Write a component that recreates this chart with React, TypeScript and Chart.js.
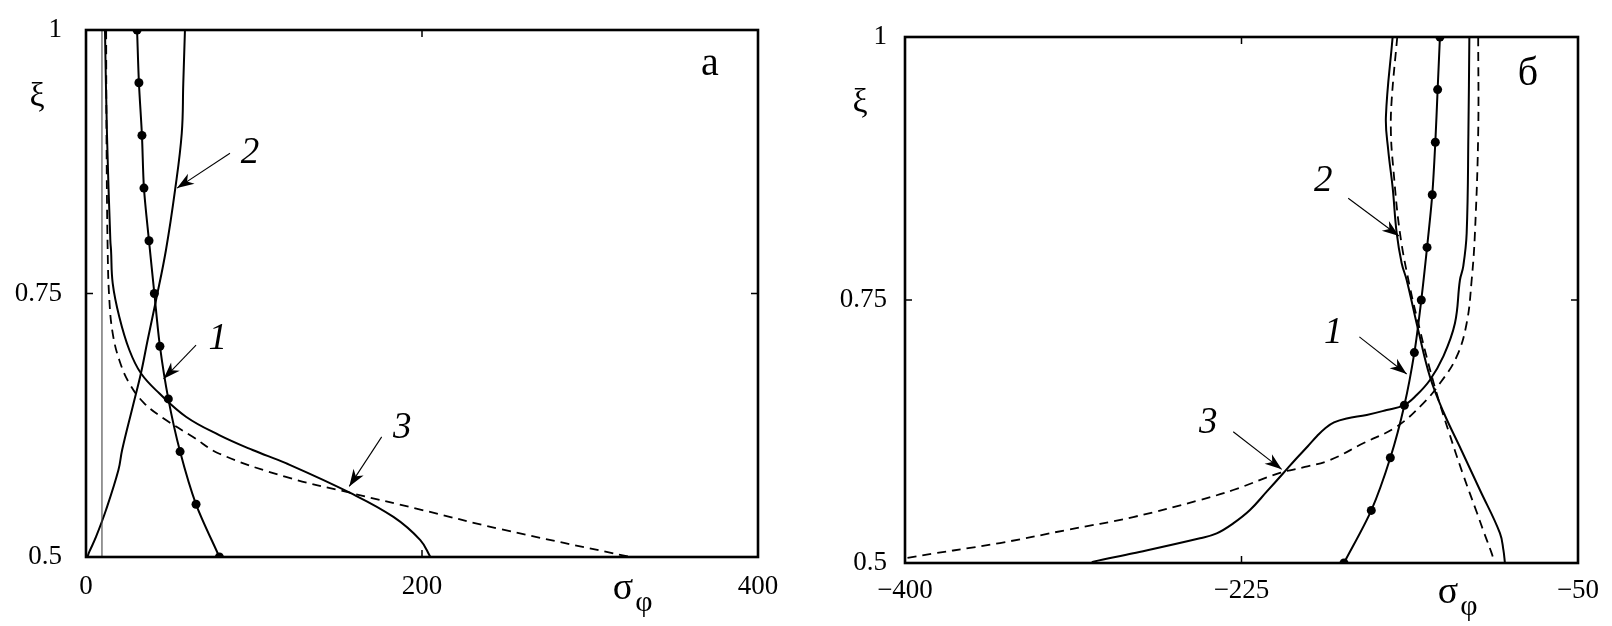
import React, { useEffect, useRef } from "react";
import { Chart, registerables } from "chart.js";

Chart.register(...registerables);

const FONT = '"Liberation Serif", "Times New Roman", serif';

// ---------------- Panel "а" (left) ----------------
const A_X_TICKS = [0, 200, 400];
const A_Y_TICKS = [0.5, 0.75, 1];

// curve 1 (with markers)
const A_XI_1 = [1, 0.95, 0.9, 0.85, 0.8, 0.75, 0.7, 0.65, 0.6, 0.55, 0.5];
const A_SIG_1 = [30.4, 31.5, 33.3, 34.5, 37.5, 40.7, 44, 49, 56, 65.5, 79.4];

// curve 2 (solid)
const A_XI_2 = [1.0, 0.949, 0.902, 0.848, 0.7913, 0.7438, 0.7059, 0.6743, 0.6426, 0.6015, 0.5825, 0.5446, 0.5193, 0.505, 0.5];
const A_SIG_2 = [58.9, 57.9, 57, 53, 47.6, 41.7, 36.7, 32.7, 27.8, 21.5, 19.3, 11.9, 6, 2, 0.8];

// curve 3 (solid)
const A_XI_3 = [1.0, 0.9, 0.8, 0.7913, 0.7597, 0.728, 0.6964, 0.6743, 0.6553, 0.6331, 0.6157, 0.6015, 0.589, 0.561, 0.538, 0.516, 0.5];
const A_SIG_3 = [11.3, 12.5, 14.5, 14.9, 15.9, 19.8, 25.8, 32.7, 43.6, 59.5, 79.3, 99.2, 119, 157, 183, 199, 205];

// curve 3 (dashed)
const A_XI_3D = [1.0, 0.9, 0.7913, 0.7438, 0.7122, 0.6869, 0.6648, 0.6458, 0.63, 0.6141, 0.598, 0.576, 0.561, 0.545, 0.5266, 0.5];
const A_SIG_3D = [12, 12.2, 12.9, 13.9, 15.9, 19.8, 25.8, 34.7, 47.6, 63.5, 79.4, 119, 157, 199, 246.4, 324];

// thin vertical reference line
const A_XI_V = [0.5, 1];
const A_SIG_V = [9.5, 9.5];

// ---------------- Panel "б" (right) ----------------
const B_X_TICKS = [-400, -225, -50];
const B_Y_TICKS = [0.5, 0.75, 1];

const B_XI_1 = [1, 0.95, 0.9, 0.85, 0.8, 0.75, 0.7, 0.65, 0.6, 0.55, 0.5];
const B_SIG_1 = [-121.8, -123.0, -124.2, -125.8, -128.5, -131.5, -135.1, -140.3, -147.6, -157.5, -171.7];

const B_XI_2 = [1.0, 0.924, 0.8926, 0.857, 0.8137, 0.785, 0.769, 0.7215, 0.6771, 0.6445, 0.6074, 0.5694, 0.5285, 0.5124, 0.5];
const B_SIG_2 = [-146.4, -149.9, -148.7, -146.4, -144.3, -141.7, -139.1, -133.1, -127, -120.2, -110.7, -101, -90.6, -88.8, -88];

const B_XI_2D = [1.0, 0.94, 0.909, 0.876, 0.8137, 0.762, 0.7215, 0.6958, 0.6613, 0.6264, 0.5853, 0.5475, 0.5285, 0.5124, 0.5057, 0.5];
const B_SIG_2D = [-144, -146.9, -147.3, -146.1, -142.6, -137.4, -132.2, -128.7, -123.5, -117.5, -110, -102.5, -98.8, -95.5, -94.3, -93.8];

const B_XI_3 = [1.0, 0.9085, 0.8134, 0.7817, 0.769, 0.7279, 0.6961, 0.674, 0.6597, 0.65, 0.6454, 0.6407, 0.6374, 0.6336, 0.6279, 0.6207, 0.6112, 0.5989, 0.5853, 0.5678, 0.5504, 0.5377, 0.5282, 0.5235, 0.5092, 0.5012, 0.5];
const B_SIG_3 = [-106.5, -107.0, -107.9, -109.7, -111.4, -114, -120.1, -127, -133.9, -140.5, -149.5, -159.9, -170.3, -176.9, -181.6, -185.7, -190.4, -196.7, -203.3, -211.9, -220.6, -229.3, -237.9, -246.6, -281.3, -302.1, -303];

const B_XI_3D = [1.0, 0.9087, 0.8137, 0.769, 0.7279, 0.6961, 0.6708, 0.6518, 0.6296, 0.6138, 0.5979, 0.5913, 0.5856, 0.5694, 0.5599, 0.5437, 0.5314, 0.519, 0.5048, 0.503];
const B_SIG_3D = [-101.9, -101.9, -103.6, -105.3, -107.9, -113.1, -121.8, -130.5, -144.3, -161.7, -178.9, -192, -205, -229.3, -246.6, -281.3, -315.9, -350.6, -399, -400];

// ---------------- helpers ----------------
function pts(sig: number[], xi: number[]) {
  return sig.map((s, i) => ({ x: s, y: xi[i] }));
}

function fmt(v: number): string {
  const s = String(Math.round(v * 100) / 100);
  return s.startsWith("-") ? "\u2212" + s.slice(1) : s;
}

const solid = (data: any[]) => ({
  data,
  borderColor: "#000",
  borderWidth: 2,
  pointRadius: 0,
  tension: 0.4,
  fill: false,
});
const dashed = (data: any[]) => ({
  data,
  borderColor: "#000",
  borderWidth: 1.8,
  borderDash: [9, 6],
  pointRadius: 0,
  tension: 0.4,
  fill: false,
});
const marked = (data: any[]) => ({
  data,
  borderColor: "#000",
  borderWidth: 2,
  pointRadius: 4.5,
  pointBackgroundColor: "#000",
  pointBorderWidth: 0,
  tension: 0.3,
  fill: false,
});
const thin = (data: any[]) => ({
  data,
  borderColor: "#444",
  borderWidth: 1.1,
  pointRadius: 0,
  tension: 0,
  fill: false,
});

type Note = { text: string; x: number; y: number; italic?: boolean; size: number };
type Arrow = { x1: number; y1: number; x2: number; y2: number };

interface PanelCfg {
  xMin: number;
  xMax: number;
  xTicks: number[];
  yTicks: number[];
  datasets: any[];
  padRight: number;
  padTop: number;
  yAxisWidth: number;
  xAxisHeight: number;
  yLabelPad: number;
  xLabelPad: number;
  notes: Note[];
  arrows: Arrow[];
  xiPos: { dx: number; dy: number };
  sigmaPos: { dx: number; dy: number };
}

const PANEL_A: PanelCfg = {
  xMin: 0,
  xMax: 400,
  xTicks: A_X_TICKS,
  yTicks: A_Y_TICKS,
  datasets: [
    thin(pts(A_SIG_V, A_XI_V)),
    dashed(pts(A_SIG_3D, A_XI_3D)),
    solid(pts(A_SIG_3, A_XI_3)),
    solid(pts(A_SIG_2, A_XI_2)),
    marked(pts(A_SIG_1, A_XI_1)),
  ],
  padRight: 48,
  padTop: 30,
  yAxisWidth: 86,
  xAxisHeight: 69,
  yLabelPad: 24,
  xLabelPad: 14,
  notes: [
    { text: "2", x: 97.6, y: 0.883, italic: true, size: 37 },
    { text: "1", x: 78.4, y: 0.707, italic: true, size: 37 },
    { text: "3", x: 188.3, y: 0.622, italic: true, size: 37 },
    { text: "а", x: 371.4, y: 0.967, size: 40 },
  ],
  arrows: [
    { x1: 85.7, y1: 0.883, x2: 54.2, y2: 0.85 },
    { x1: 65.5, y1: 0.701, x2: 46.2, y2: 0.669 },
    { x1: 176, y1: 0.614, x2: 156.7, y2: 0.567 },
  ],
  xiPos: { dx: -49, dy: 67 },
  sigmaPos: { dx: -135, dy: 32 },
};

const PANEL_B: PanelCfg = {
  xMin: -400,
  xMax: -50,
  xTicks: B_X_TICKS,
  yTicks: B_Y_TICKS,
  datasets: [
    dashed(pts(B_SIG_3D, B_XI_3D)),
    dashed(pts(B_SIG_2D, B_XI_2D)),
    solid(pts(B_SIG_3, B_XI_3)),
    solid(pts(B_SIG_2, B_XI_2)),
    marked(pts(B_SIG_1, B_XI_1)),
  ],
  padRight: 34,
  padTop: 37,
  yAxisWidth: 99,
  xAxisHeight: 63,
  yLabelPad: 18,
  xLabelPad: 12,
  notes: [
    { text: "2", x: -182.5, y: 0.8625, italic: true, size: 37 },
    { text: "1", x: -177.3, y: 0.7183, italic: true, size: 37 },
    { text: "3", x: -242.3, y: 0.6328, italic: true, size: 37 },
    { text: "б", x: -76, y: 0.964, size: 40 },
  ],
  arrows: [
    { x1: -169.5, y1: 0.8467, x2: -143.1, y2: 0.8108 },
    { x1: -163.7, y1: 0.715, x2: -139.1, y2: 0.6797 },
    { x1: -229.3, y1: 0.6248, x2: -204.1, y2: 0.589 },
  ],
  xiPos: { dx: -45, dy: 66 },
  sigmaPos: { dx: -130, dy: 30 },
};

function drawArrow(ctx: CanvasRenderingContext2D, x1: number, y1: number, x2: number, y2: number) {
  ctx.lineWidth = 1.1;
  ctx.beginPath();
  ctx.moveTo(x1, y1);
  ctx.lineTo(x2, y2);
  ctx.stroke();
  const a = Math.atan2(y2 - y1, x2 - x1);
  const c = Math.cos(a);
  const s = Math.sin(a);
  const L = 17;
  const W = 6;
  const N = 12;
  ctx.beginPath();
  ctx.moveTo(x2, y2);
  ctx.lineTo(x2 - L * c + W * s, y2 - L * s - W * c);
  ctx.lineTo(x2 - N * c, y2 - N * s);
  ctx.lineTo(x2 - L * c - W * s, y2 - L * s + W * c);
  ctx.closePath();
  ctx.fill();
}

function makePlugin(cfg: PanelCfg) {
  return {
    id: "frameAndNotes",
    afterDraw(chart: any) {
      const ctx: CanvasRenderingContext2D = chart.ctx;
      const { left, right, top, bottom } = chart.chartArea;
      const xs = chart.scales.x;
      const ys = chart.scales.y;
      ctx.save();
      ctx.strokeStyle = "#000";
      ctx.fillStyle = "#000";
      // frame
      ctx.lineWidth = 2.6;
      ctx.strokeRect(left, top, right - left, bottom - top);
      // inward ticks on all sides
      ctx.lineWidth = 1.5;
      const TL = 7;
      ctx.beginPath();
      cfg.xTicks.forEach((v) => {
        const px = xs.getPixelForValue(v);
        ctx.moveTo(px, bottom);
        ctx.lineTo(px, bottom - TL);
        ctx.moveTo(px, top);
        ctx.lineTo(px, top + TL);
      });
      cfg.yTicks.forEach((v) => {
        const py = ys.getPixelForValue(v);
        ctx.moveTo(left, py);
        ctx.lineTo(left + TL, py);
        ctx.moveTo(right, py);
        ctx.lineTo(right - TL, py);
      });
      ctx.stroke();
      // arrows
      cfg.arrows.forEach((ar) => {
        drawArrow(
          ctx,
          xs.getPixelForValue(ar.x1),
          ys.getPixelForValue(ar.y1),
          xs.getPixelForValue(ar.x2),
          ys.getPixelForValue(ar.y2)
        );
      });
      // notes
      ctx.textAlign = "center";
      ctx.textBaseline = "middle";
      cfg.notes.forEach((n) => {
        ctx.font = `${n.italic ? "italic " : ""}${n.size}px ${FONT}`;
        ctx.fillText(n.text, xs.getPixelForValue(n.x), ys.getPixelForValue(n.y));
      });
      // axis titles
      ctx.font = `34px ${FONT}`;
      ctx.fillText("ξ", left + cfg.xiPos.dx, top + cfg.xiPos.dy);
      ctx.font = `38px ${FONT}`;
      const sx = right + cfg.sigmaPos.dx;
      const sy = bottom + cfg.sigmaPos.dy;
      ctx.fillText("σ", sx, sy);
      ctx.font = `30px ${FONT}`;
      ctx.fillText("φ", sx + 21, sy + 14);
      ctx.restore();
    },
  };
}

function Panel({ cfg, left }: { cfg: PanelCfg; left: number }) {
  const ref = useRef<HTMLCanvasElement>(null);
  useEffect(() => {
    const chart = new Chart(ref.current as HTMLCanvasElement, {
      type: "line",
      data: { datasets: cfg.datasets },
      options: {
        animation: false,
        responsive: false,
        maintainAspectRatio: false,
        layout: { padding: { left: 0, right: cfg.padRight, top: cfg.padTop, bottom: 0 } },
        plugins: {
          legend: { display: false },
          tooltip: { enabled: false },
          title: { display: false },
        },
        scales: {
          x: {
            type: "linear",
            min: cfg.xMin,
            max: cfg.xMax,
            afterBuildTicks: (s: any) => {
              s.ticks = cfg.xTicks.map((v) => ({ value: v }));
            },
            afterFit: (s: any) => {
              s.height = cfg.xAxisHeight;
              s.paddingLeft = 0;
              s.paddingRight = 0;
            },
            grid: { display: false, drawTicks: false },
            border: { display: false },
            ticks: {
              color: "#000",
              font: { family: FONT, size: 27 },
              padding: cfg.xLabelPad,
              maxRotation: 0,
              autoSkip: false,
              callback: (v: any) => fmt(Number(v)),
            },
          },
          y: {
            type: "linear",
            min: 0.5,
            max: 1,
            afterBuildTicks: (s: any) => {
              s.ticks = cfg.yTicks.map((v) => ({ value: v }));
            },
            afterFit: (s: any) => {
              s.width = cfg.yAxisWidth;
              s.paddingTop = 0;
              s.paddingBottom = 0;
            },
            grid: { display: false, drawTicks: false },
            border: { display: false },
            ticks: {
              color: "#000",
              font: { family: FONT, size: 27 },
              padding: cfg.yLabelPad,
              autoSkip: false,
              callback: (v: any) => fmt(Number(v)),
            },
          },
        },
      } as any,
      plugins: [makePlugin(cfg)],
    });
    return () => chart.destroy();
  }, [cfg]);
  return (
    <canvas
      ref={ref}
      width={806}
      height={626}
      style={{ position: "absolute", left, top: 0, width: 806, height: 626 }}
    />
  );
}

export default function App() {
  return (
    <div
      style={{
        position: "fixed",
        left: 0,
        top: 0,
        width: 1612,
        height: 626,
        background: "#fff",
        overflow: "hidden",
      }}
    >
      <Panel cfg={PANEL_A} left={0} />
      <Panel cfg={PANEL_B} left={806} />
    </div>
  );
}
